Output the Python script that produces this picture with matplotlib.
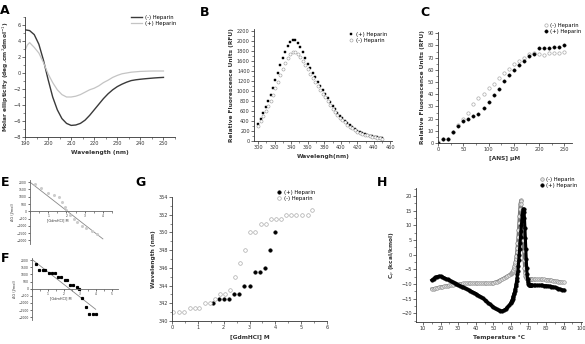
import numpy as np
import matplotlib
matplotlib.use("Agg")
import matplotlib.pyplot as plt
from matplotlib.ticker import MultipleLocator

# ---- A: CD spectra
wl_minus = np.arange(190, 251, 2)
cd_minus = [5.4, 5.3, 4.8, 3.6, 1.6, -0.8, -3.0, -4.6, -5.7, -6.3, -6.55, -6.5, -6.3, -5.9, -5.3,
            -4.6, -3.9, -3.2, -2.6, -2.1, -1.7, -1.4, -1.15, -0.95, -0.85, -0.78, -0.72, -0.67,
            -0.62, -0.58, -0.55]
wl_plus = [190, 191, 192, 194, 196, 198, 200, 202, 204, 206, 208, 210, 212, 214, 216, 218, 220,
           222, 224, 226, 228, 230, 232, 234, 236, 238, 240, 242, 244, 246, 248, 250]
cd_plus = [2.8, 3.5, 3.8, 3.2, 2.5, 1.3, -0.1, -1.2, -2.1, -2.7, -3.0, -3.0, -2.9, -2.7, -2.4,
           -2.1, -1.9, -1.6, -1.2, -0.9, -0.55, -0.3, -0.1, 0.0, 0.1, 0.15, 0.2, 0.22, 0.24,
           0.25, 0.25, 0.25]

# ---- B: intrinsic fluorescence
wl_b = np.arange(300, 451, 3)
rfu_plus = [350, 450, 560, 680, 800, 930, 1070, 1220, 1370, 1520, 1660, 1790, 1900, 1980, 2020,
            2020, 1970, 1880, 1780, 1670, 1550, 1460, 1370, 1280, 1190, 1110, 1030, 950, 870,
            790, 710, 640, 570, 510, 460, 410, 360, 320, 280, 245, 210, 185, 160, 140, 120, 108,
            96, 86, 76, 66, 58]
rfu_minus = [310, 400, 500, 600, 700, 810, 930, 1060, 1190, 1320, 1450, 1570, 1670, 1740, 1790,
             1790, 1750, 1690, 1600, 1520, 1440, 1350, 1260, 1180, 1100, 1020, 950, 880, 800,
             720, 650, 590, 530, 470, 420, 380, 330, 290, 260, 230, 190, 170, 150, 130, 115, 100,
             90, 80, 70, 60, 50]

# ---- C: ANS binding
ans = np.arange(0, 251, 10)
ans_minus = [1, 3, 3, 9, 15, 20, 24.5, 32, 37, 40, 45.5, 48, 53.5, 57, 60.5, 65, 67, 70, 73, 73.5,
             73, 72.5, 73.5, 73.5, 73.5, 74.5]
ans_plus = [0, 3, 3, 9, 14, 18, 20, 22, 23.5, 28.5, 34, 39, 44, 50.5, 56, 60, 64, 67, 71, 73,
            77.5, 77.5, 78, 78.5, 79, 80]

# ---- E / F: dG vs GdmHCl
e_x = [0.3, 0.6, 1.0, 1.3, 1.6, 1.75, 1.9, 2.0, 2.2, 2.4, 2.6, 2.85, 3.1, 3.4, 3.7]
e_y = [1850, 1600, 1250, 1100, 950, 650, 300, 100, -250, -550, -750, -1000, -1150, -1350, -1550]
e_fit_x = [0, 4]
e_fit_y = [2000, -1900]
f_x = [0.25, 0.44, 0.68, 0.83, 1.04, 1.25, 1.46, 1.61, 1.83, 2.06, 2.21, 2.38, 2.59, 2.80, 2.95,
       3.16, 3.40, 3.57, 3.80, 4.01]
f_y = [1720, 1330, 1330, 1330, 1080, 1080, 1080, 850, 850, 620, 620, 230, 230, 110, 0, -650,
       -1290, -1750, -1750, -1750]
f_fit_x = [0, 4]
f_fit_y = [2050, -1450]

# ---- G: emission max vs GdmHCl
g_plus_x = [1.6, 1.8, 2.0, 2.2, 2.4, 2.6, 2.8, 3.0, 3.2, 3.4, 3.6, 3.8, 4.0]
g_plus_y = [342, 342.5, 342.5, 342.5, 343, 343, 344, 344, 345.5, 345.5, 346, 348, 350]
g_minus_x = [0.04, 0.27, 0.45, 0.68, 0.88, 1.04, 1.26, 1.46, 1.65, 1.85, 2.06, 2.23, 2.43, 2.62,
             2.84, 3.0, 3.23, 3.43, 3.63, 3.82, 4.04, 4.23, 4.43, 4.62, 4.81, 5.03, 5.26, 5.43]
g_minus_y = [341, 341, 341, 341.5, 341.5, 341.5, 342, 342, 342.5, 343, 343, 343.5, 345, 346.5,
             348, 350, 350, 351, 351, 351.5, 351.5, 351.5, 352, 352, 352, 352, 352, 352.5]

# ---- H: DSC
temp = np.concatenate([np.arange(15, 60), np.arange(60, 72.01, 0.25), np.arange(73, 91)])
cp_minus = [-11.7, -11.6, -11.5, -11.3, -11.2, -11.0, -10.9, -10.8, -10.7, -10.6, -10.5, -10.4,
            -10.3, -10.2, -10.1, -10.0, -9.95, -9.9, -9.85, -9.8, -9.8, -9.8, -9.8, -9.8, -9.8,
            -9.8, -9.8, -9.8, -9.8, -9.8, -9.8, -9.8, -9.8, -9.8, -9.7, -9.6, -9.4, -9.2, -8.9,
            -8.6, -8.3, -8.0, -7.6, -7.3, -6.9,
            -6.6, -6.4, -6.2, -6.0, -5.8, -5.5, -5.1, -4.6, -4.0, -3.3, -2.5, -1.6, -0.5, 0.8, 2.3,
            4.0, 6.0, 8.3, 10.8, 13.3, 15.6, 17.4, 18.5, 18.4, 17.2, 15.0, 12.0, 8.5, 4.8, 1.2,
            -2.0, -4.5, -6.2, -7.2, -7.8, -8.1, -8.3, -8.4, -8.4, -8.5, -8.5, -8.5, -8.5, -8.5,
            -8.5, -8.5, -8.5, -8.5, -8.5,
            -8.5, -8.5, -8.5, -8.5, -8.5, -8.5, -8.5, -8.6, -8.6, -8.7, -8.8, -8.9, -9.0, -9.1,
            -9.2, -9.3, -9.4, -9.5]
cp_plus = [-8.7, -8.2, -7.8, -7.5, -7.4, -7.4, -7.6, -7.9, -8.2, -8.5, -8.8, -9.1, -9.4, -9.7,
           -10.0, -10.3, -10.6, -10.9, -11.2, -11.5, -11.8, -12.1, -12.4, -12.7, -13.0, -13.3,
           -13.7, -14.1, -14.5, -14.9, -15.4, -15.9, -16.4, -16.9, -17.4, -17.9, -18.3, -18.7,
           -19.0, -19.2, -19.2, -19.0, -18.6, -18.0, -17.3,
           -16.5, -16.2, -15.8, -15.4, -15.0, -14.5, -14.0, -13.5, -13.0, -12.3, -11.6, -10.8,
           -10.0, -9.0, -8.0, -6.8, -5.5, -3.8, -2.0, 0.0, 2.0, 4.0, 6.0, 8.0, 10.0, 11.8, 13.4,
           14.7, 15.4, 15.5, 14.6, 12.4, 9.2, 5.6, 2.0, -1.5, -4.5, -6.8, -8.4, -9.4, -10.0,
           -10.3, -10.4, -10.5, -10.5, -10.5, -10.5, -10.5, -10.5,
           -10.5, -10.5, -10.5, -10.5, -10.5, -10.5, -10.6, -10.6, -10.7, -10.8, -10.9, -11.0,
           -11.2, -11.4, -11.6, -11.8, -12.0, -12.1]

W, H = 585, 344
fig = plt.figure(figsize=(W / 100, H / 100), dpi=100)
TXT = "#333333"
LG = "#aaaaaa"


def box(l, t, r, b):
    return [l / W, 1 - b / H, (r - l) / W, (b - t) / H]


def fxy(x, y):
    return (x / W, 1 - y / H)


def style(ax, fs=3.6):
    for s in ["top", "right"]:
        ax.spines[s].set_visible(False)
    for s in ["left", "bottom"]:
        ax.spines[s].set_linewidth(0.6)
        ax.spines[s].set_color(TXT)
    ax.tick_params(which="major", direction="out", length=2, width=0.5, labelsize=fs,
                   pad=1, colors=TXT)
    ax.tick_params(which="minor", direction="out", length=1.2, width=0.4, colors=TXT)


def labels(ax, xl, yl, fs=4.2):
    ax.set_xlabel(xl, fontsize=fs, fontweight="bold", color=TXT, labelpad=3)
    ax.set_ylabel(yl, fontsize=fs, fontweight="bold", color=TXT, labelpad=2)


def legend(ax, x, y, **kw):
    ax.legend(loc="upper left", bbox_to_anchor=fxy(x, y), bbox_transform=fig.transFigure,
              fontsize=3.8, frameon=False, borderpad=0, labelspacing=0.25,
              handletextpad=0.5, **kw)


def letter(x, y, s):
    fig.text(x / W, 1 - y / H, s, fontsize=9, fontweight="bold", va="center", ha="left")


# A
ax = fig.add_axes(box(25, 17, 175, 137))
style(ax)
ax.plot(wl_minus, cd_minus, color="#3a3a3a", lw=1.0, label="(-) Heparin")
ax.plot(wl_plus, cd_plus, color="#c4c4c4", lw=0.9, label="(+) Heparin")
ax.set_xlim(190, 255)
ax.set_ylim(-8, 7)
ax.xaxis.set_major_locator(MultipleLocator(10))
ax.xaxis.set_minor_locator(MultipleLocator(5))
ax.yaxis.set_major_locator(MultipleLocator(2))
ax.yaxis.set_minor_locator(MultipleLocator(1))
labels(ax, "Wavelength (nm)", "Molar ellipticity (deg.cm$^2$dmol$^{-1}$)")
legend(ax, 128, 12, handlelength=2.2)

# B
ax = fig.add_axes(box(254, 29, 392, 141))
style(ax)
ax.plot(wl_b, rfu_plus, "s", ms=2.0, mfc="black", mec="black", mew=0.3, label="(+) Heparin")
ax.plot(wl_b, rfu_minus, "o", ms=2.2, mfc="white", mec="#999999", mew=0.4, label="(-) Heparin")
ax.set_xlim(295, 462)
ax.set_ylim(0, 2240)
ax.xaxis.set_major_locator(MultipleLocator(20))
ax.xaxis.set_minor_locator(MultipleLocator(10))
ax.yaxis.set_major_locator(MultipleLocator(200))
ax.yaxis.set_minor_locator(MultipleLocator(100))
labels(ax, "Wavelengh(nm)", "Relative Fluorescence Units (RFU)")
legend(ax, 346, 29, handlelength=0.8)

# C
ax = fig.add_axes(box(438, 32, 572, 143))
style(ax)
ax.plot(ans, ans_minus, "o", ms=2.4, mfc="white", mec=LG, mew=0.5, label="(-) Heparin")
ax.plot(ans, ans_plus, "o", ms=2.4, mfc="black", mec="black", mew=0.3, label="(+) Heparin")
ax.set_xlim(0, 265)
ax.set_ylim(0, 91)
ax.xaxis.set_major_locator(MultipleLocator(50))
ax.xaxis.set_minor_locator(MultipleLocator(25))
ax.yaxis.set_major_locator(MultipleLocator(10))
ax.yaxis.set_minor_locator(MultipleLocator(5))
labels(ax, "[ANS] \u03bcM", "Relative Fluorescence Units (RFU)")
legend(ax, 541, 20, handlelength=0.8)

# E
ax = fig.add_axes(box(30, 180, 112, 244))
style(ax, fs=2.2)
ax.spines["bottom"].set_position(("data", 0))
ax.spines["left"].set_color("#666666")
ax.spines["bottom"].set_color("#666666")
ax.plot(e_fit_x, e_fit_y, color="#888888", lw=0.6)
ax.plot(e_x, e_y, "o", ms=1.2, mfc="#cccccc", mec="#cccccc")
ax.set_xlim(0, 4.5)
ax.set_ylim(-2250, 2150)
ax.xaxis.set_major_locator(MultipleLocator(1))
ax.xaxis.set_minor_locator(MultipleLocator(0.5))
ax.yaxis.set_major_locator(MultipleLocator(500))
ax.tick_params(length=1.2)
ax.set_xticks([1, 2, 3, 4])
ax.set_ylabel("\u0394G (J/mol)", fontsize=2.5, color=TXT, labelpad=1)
ax.text(0.95, -650, "[GdmHCl] M", fontsize=2.5, color=TXT, va="center")

# F
ax = fig.add_axes(box(32, 258, 118, 320))
style(ax, fs=2.2)
ax.spines["bottom"].set_position(("data", 0))
ax.spines["left"].set_color("#666666")
ax.spines["bottom"].set_color("#666666")
ax.plot(f_fit_x, f_fit_y, color="#888888", lw=0.6)
ax.plot(f_x, f_y, "s", ms=1.3, mfc="black", mec="black")
ax.set_xlim(0, 5.4)
ax.set_ylim(-2200, 2150)
ax.xaxis.set_major_locator(MultipleLocator(1))
ax.xaxis.set_minor_locator(MultipleLocator(0.5))
ax.yaxis.set_major_locator(MultipleLocator(500))
ax.tick_params(length=1.2)
ax.set_xticks([1, 2, 3, 4, 5])
ax.set_ylabel("\u0394G (J/mol)", fontsize=2.5, color=TXT, labelpad=1)
ax.text(1.15, -650, "[GdmHCl] M", fontsize=2.5, color=TXT, va="center")

# G
ax = fig.add_axes(box(172, 197, 327, 321))
style(ax)
ax.plot(g_plus_x, g_plus_y, "o", ms=2.6, mfc="black", mec="black", mew=0.3, label="(+) Heparin")
ax.plot(g_minus_x, g_minus_y, "o", ms=2.6, mfc="white", mec=LG, mew=0.5, label="(-) Heparin")
ax.set_xlim(0, 6)
ax.set_ylim(340, 354)
ax.xaxis.set_major_locator(MultipleLocator(1))
ax.xaxis.set_minor_locator(MultipleLocator(0.5))
ax.yaxis.set_major_locator(MultipleLocator(2))
ax.yaxis.set_minor_locator(MultipleLocator(1))
labels(ax, "[GdmHCl] M", "Wavelength (nm)")
legend(ax, 274, 187, handlelength=0.8)

# H
ax = fig.add_axes(box(416, 188, 582, 322))
style(ax)
ax.plot(temp, cp_minus, "-", color="#777777", lw=2.0, zorder=2)
ax.plot(temp, cp_minus, "o", ms=2.6, mfc="#dddddd", mec="#888888", mew=0.4, zorder=3,
        label="(-) Heparin")
ax.plot(temp, cp_plus, "-", color="black", lw=2.2, zorder=4)
ax.plot(temp, cp_plus, "o", ms=2.6, mfc="black", mec="black", mew=0.3, zorder=5,
        label="(+) Heparin")
ax.set_xlim(6, 100.5)
ax.set_ylim(-23, 22.7)
ax.xaxis.set_major_locator(MultipleLocator(10))
ax.xaxis.set_minor_locator(MultipleLocator(5))
ax.yaxis.set_major_locator(MultipleLocator(5))
ax.yaxis.set_minor_locator(MultipleLocator(2.5))
labels(ax, "Temperature \u00b0C", "C$_p$ (kcal/kmol)")
legend(ax, 537, 174, handlelength=0.8)

letter(0, 10, "A")
letter(200, 13, "B")
letter(420, 13, "C")
letter(1, 183, "E")
letter(1, 258, "F")
letter(135, 182, "G")
letter(377, 182, "H")

fig.savefig("out.png", dpi=100)
